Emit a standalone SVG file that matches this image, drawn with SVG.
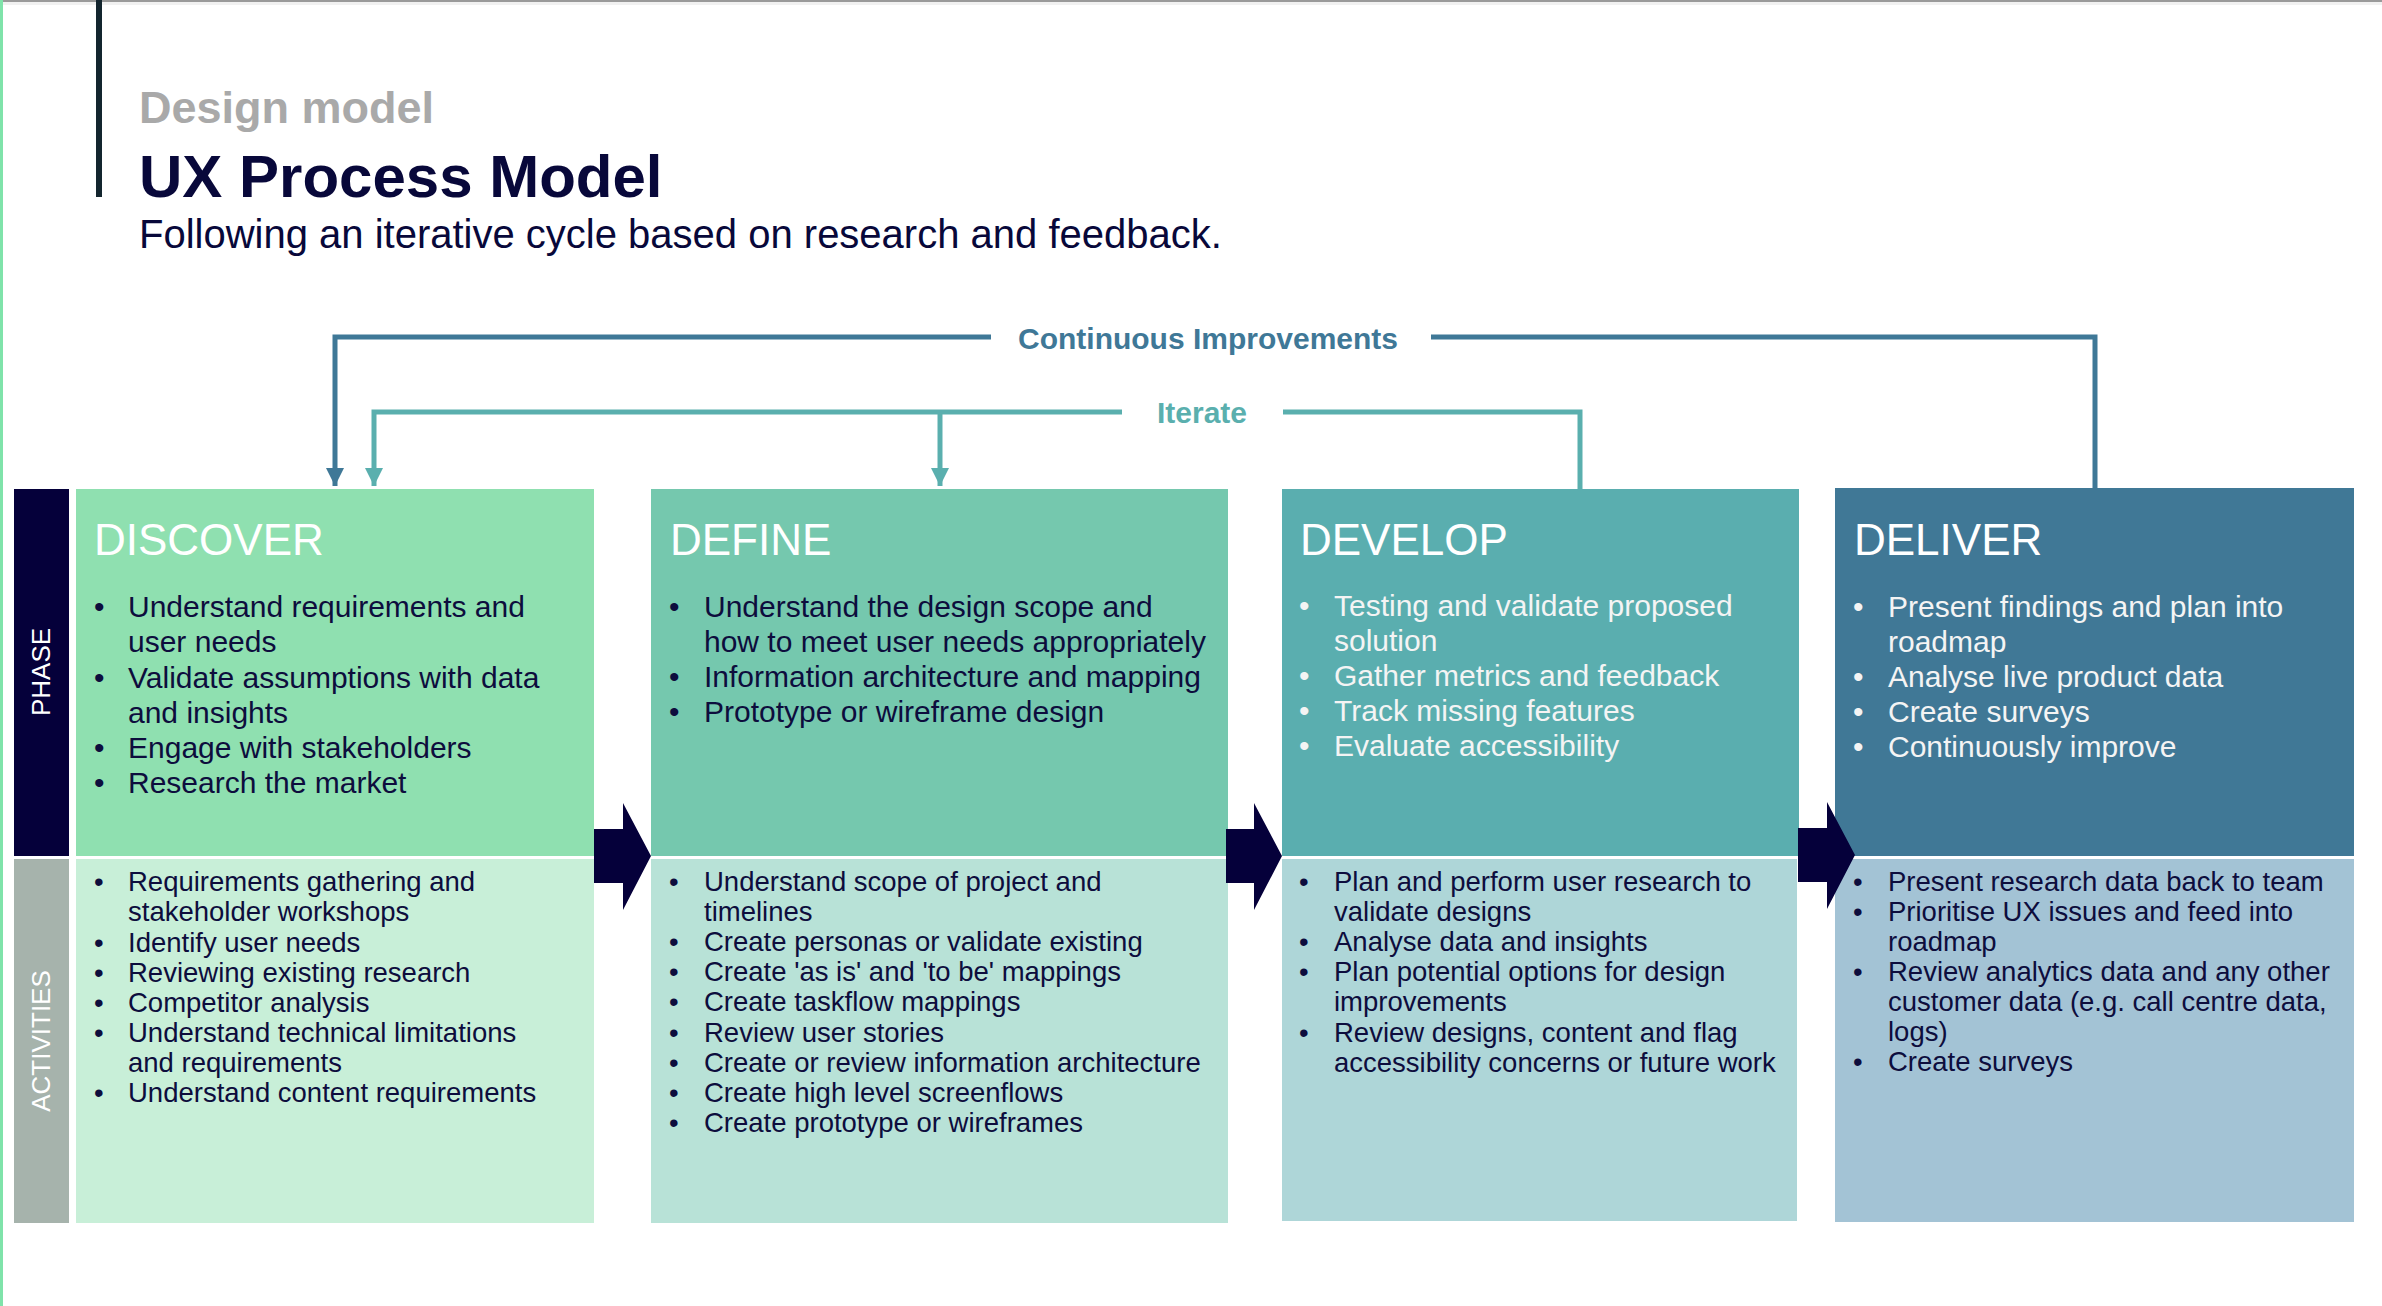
<svg xmlns="http://www.w3.org/2000/svg" width="2382" height="1306" viewBox="0 0 2382 1306">
<style>
  text { font-family: "Liberation Sans", Arial, Helvetica, sans-serif; }
  .ttl-sub { font-size: 45px; font-weight: bold; fill: #a9a9a9; }
  .ttl { font-size: 60px; font-weight: bold; fill: #08083a; }
  .lead { font-size: 40px; fill: #08083a; }
  .ci { stroke: #3f7897; fill: none; stroke-width: 5; }
  .it { stroke: #5aafae; fill: none; stroke-width: 5; }
  .ci-lbl { font-size: 30px; font-weight: bold; fill: #3f7897; }
  .it-lbl { font-size: 30px; font-weight: bold; fill: #5aafae; }
  .head { font-size: 44px; fill: #ffffff; }
  .ph { font-size: 30px; }
  .ac { font-size: 27.5px; fill: #0d0d3d; }
  .dark { fill: #0d0d3d; }
  .light { fill: #f4f4f4; }
  .side { font-size: 26px; fill: #ffffff; }
  .chev { fill: #05003a; }
</style>
<defs>
  <marker id="ahCI" markerWidth="18" markerHeight="18" refX="18" refY="9" orient="auto" markerUnits="userSpaceOnUse">
    <path d="M0,0 L18,9 L0,18 Z" fill="#3f7897"/>
  </marker>
  <marker id="ahIT" markerWidth="18" markerHeight="18" refX="18" refY="9" orient="auto" markerUnits="userSpaceOnUse">
    <path d="M0,0 L18,9 L0,18 Z" fill="#5aafae"/>
  </marker>
</defs>
<rect x="0" y="0" width="2382" height="1306" fill="#ffffff"/>
<rect x="0" y="0" width="2382" height="2" fill="#9a9a9a"/>
<rect x="0" y="2" width="2382" height="3" fill="#f1f1f1"/>
<rect x="0" y="0" width="3" height="1306" fill="#7fe3aa"/>

<g id="header">
  <rect x="96" y="0" width="6" height="197" fill="#13252e"/>
  <text class="ttl-sub" x="139" y="123">Design model</text>
  <text class="ttl" x="139" y="197">UX Process Model</text>
  <text class="lead" x="139" y="248">Following an iterative cycle based on research and feedback.</text>
</g>

<g id="connectors">
  <path class="ci" d="M991,337 H335 V486" marker-end="url(#ahCI)"/>
  <path class="ci" d="M1431,337 H2095 V489"/>
  <text class="ci-lbl" x="1018" y="349">Continuous Improvements</text>
  <path class="it" d="M1122,412 H374 V486" marker-end="url(#ahIT)"/>
  <path class="it" d="M940,412 V486" marker-end="url(#ahIT)"/>
  <path class="it" d="M1283,412 H1580 V489"/>
  <text class="it-lbl" x="1157" y="423">Iterate</text>
</g>

<g id="side-labels">
  <rect x="14" y="489" width="55" height="367" fill="#05003a"/>
  <rect x="14" y="859" width="55" height="364" fill="#a6b3ac"/>
  <text class="side" text-anchor="middle" transform="translate(40,672) rotate(-90)" y="9.5">PHASE</text>
  <text class="side" text-anchor="middle" transform="translate(40,1041) rotate(-90)" y="9.5">ACTIVITIES</text>
</g>

<g id="discover">
  <rect x="76" y="489" width="518" height="367" fill="#8fe0b0"/>
  <rect x="76" y="859" width="518" height="364" fill="#c8efd8"/>
  <text class="head" x="94" y="555">DISCOVER</text>
  <g class="ph dark">
    <text x="94" y="617">•</text><text x="128" y="617">Understand requirements and</text>
    <text x="128" y="652">user needs</text>
    <text x="94" y="688">•</text><text x="128" y="688">Validate assumptions with data</text>
    <text x="128" y="723">and insights</text>
    <text x="94" y="758">•</text><text x="128" y="758">Engage with stakeholders</text>
    <text x="94" y="793">•</text><text x="128" y="793">Research the market</text>
  </g>
  <g class="ac">
    <text x="94" y="891">•</text><text x="128" y="891">Requirements gathering and</text>
    <text x="128" y="921">stakeholder workshops</text>
    <text x="94" y="951.5">•</text><text x="128" y="951.5">Identify user needs</text>
    <text x="94" y="981.5">•</text><text x="128" y="981.5">Reviewing existing research</text>
    <text x="94" y="1011.5">•</text><text x="128" y="1011.5">Competitor analysis</text>
    <text x="94" y="1042">•</text><text x="128" y="1042">Understand technical limitations</text>
    <text x="128" y="1072">and requirements</text>
    <text x="94" y="1102">•</text><text x="128" y="1102">Understand content requirements</text>
  </g>
</g>

<g id="define">
  <rect x="651" y="489" width="577" height="367" fill="#75c8ae"/>
  <rect x="651" y="859" width="577" height="364" fill="#b8e2d7"/>
  <text class="head" x="670" y="555">DEFINE</text>
  <g class="ph dark">
    <text x="669" y="617">•</text><text x="704" y="617">Understand the design scope and</text>
    <text x="704" y="652">how to meet user needs appropriately</text>
    <text x="669" y="687">•</text><text x="704" y="687">Information architecture and mapping</text>
    <text x="669" y="722">•</text><text x="704" y="722">Prototype or wireframe design</text>
  </g>
  <g class="ac">
    <text x="669" y="890.5">•</text><text x="704" y="890.5">Understand scope of project and</text>
    <text x="704" y="920.5">timelines</text>
    <text x="669" y="951">•</text><text x="704" y="951">Create personas or validate existing</text>
    <text x="669" y="981">•</text><text x="704" y="981">Create 'as is' and 'to be' mappings</text>
    <text x="669" y="1011">•</text><text x="704" y="1011">Create taskflow mappings</text>
    <text x="669" y="1041.5">•</text><text x="704" y="1041.5">Review user stories</text>
    <text x="669" y="1071.5">•</text><text x="704" y="1071.5">Create or review information architecture</text>
    <text x="669" y="1101.5">•</text><text x="704" y="1101.5">Create high level screenflows</text>
    <text x="669" y="1131.5">•</text><text x="704" y="1131.5">Create prototype or wireframes</text>
  </g>
</g>

<g id="develop">
  <rect x="1282" y="489" width="517" height="367" fill="#5aaeaf"/>
  <rect x="1282" y="859" width="515" height="362" fill="#aed6d8"/>
  <text class="head" x="1300" y="555">DEVELOP</text>
  <g class="ph light">
    <text x="1299" y="616">•</text><text x="1334" y="616">Testing and validate proposed</text>
    <text x="1334" y="651">solution</text>
    <text x="1299" y="686">•</text><text x="1334" y="686">Gather metrics and feedback</text>
    <text x="1299" y="721">•</text><text x="1334" y="721">Track missing features</text>
    <text x="1299" y="756">•</text><text x="1334" y="756">Evaluate accessibility</text>
  </g>
  <g class="ac">
    <text x="1299" y="890.5">•</text><text x="1334" y="890.5">Plan and perform user research to</text>
    <text x="1334" y="920.5">validate designs</text>
    <text x="1299" y="950.5">•</text><text x="1334" y="950.5">Analyse data and insights</text>
    <text x="1299" y="981">•</text><text x="1334" y="981">Plan potential options for design</text>
    <text x="1334" y="1011">improvements</text>
    <text x="1299" y="1041.5">•</text><text x="1334" y="1041.5">Review designs, content and flag</text>
    <text x="1334" y="1071.5">accessibility concerns or future work</text>
  </g>
</g>

<g id="deliver">
  <rect x="1835" y="488" width="519" height="368" fill="#407896"/>
  <rect x="1835" y="859" width="519" height="363" fill="#a3c3d5"/>
  <text class="head" x="1854" y="555">DELIVER</text>
  <g class="ph light">
    <text x="1853" y="617">•</text><text x="1888" y="617">Present findings and plan into</text>
    <text x="1888" y="652">roadmap</text>
    <text x="1853" y="687">•</text><text x="1888" y="687">Analyse live product data</text>
    <text x="1853" y="722">•</text><text x="1888" y="722">Create surveys</text>
    <text x="1853" y="757">•</text><text x="1888" y="757">Continuously improve</text>
  </g>
  <g class="ac">
    <text x="1853" y="890.5">•</text><text x="1888" y="890.5">Present research data back to team</text>
    <text x="1853" y="920.5">•</text><text x="1888" y="920.5">Prioritise UX issues and feed into</text>
    <text x="1888" y="950.5">roadmap</text>
    <text x="1853" y="981">•</text><text x="1888" y="981">Review analytics data and any other</text>
    <text x="1888" y="1011">customer data (e.g. call centre data,</text>
    <text x="1888" y="1041">logs)</text>
    <text x="1853" y="1071">•</text><text x="1888" y="1071">Create surveys</text>
  </g>
</g>

<g id="flow-arrows">
  <polygon class="chev" points="594,829 623,829 623,803 651,856 623,910 623,883 594,883"/>
  <polygon class="chev" points="1226,829 1254,829 1254,803 1282,856 1254,910 1254,883 1226,883"/>
  <polygon class="chev" points="1798,828 1827,828 1827,802 1855,855 1827,909 1827,882 1798,882"/>
</g>
</svg>
